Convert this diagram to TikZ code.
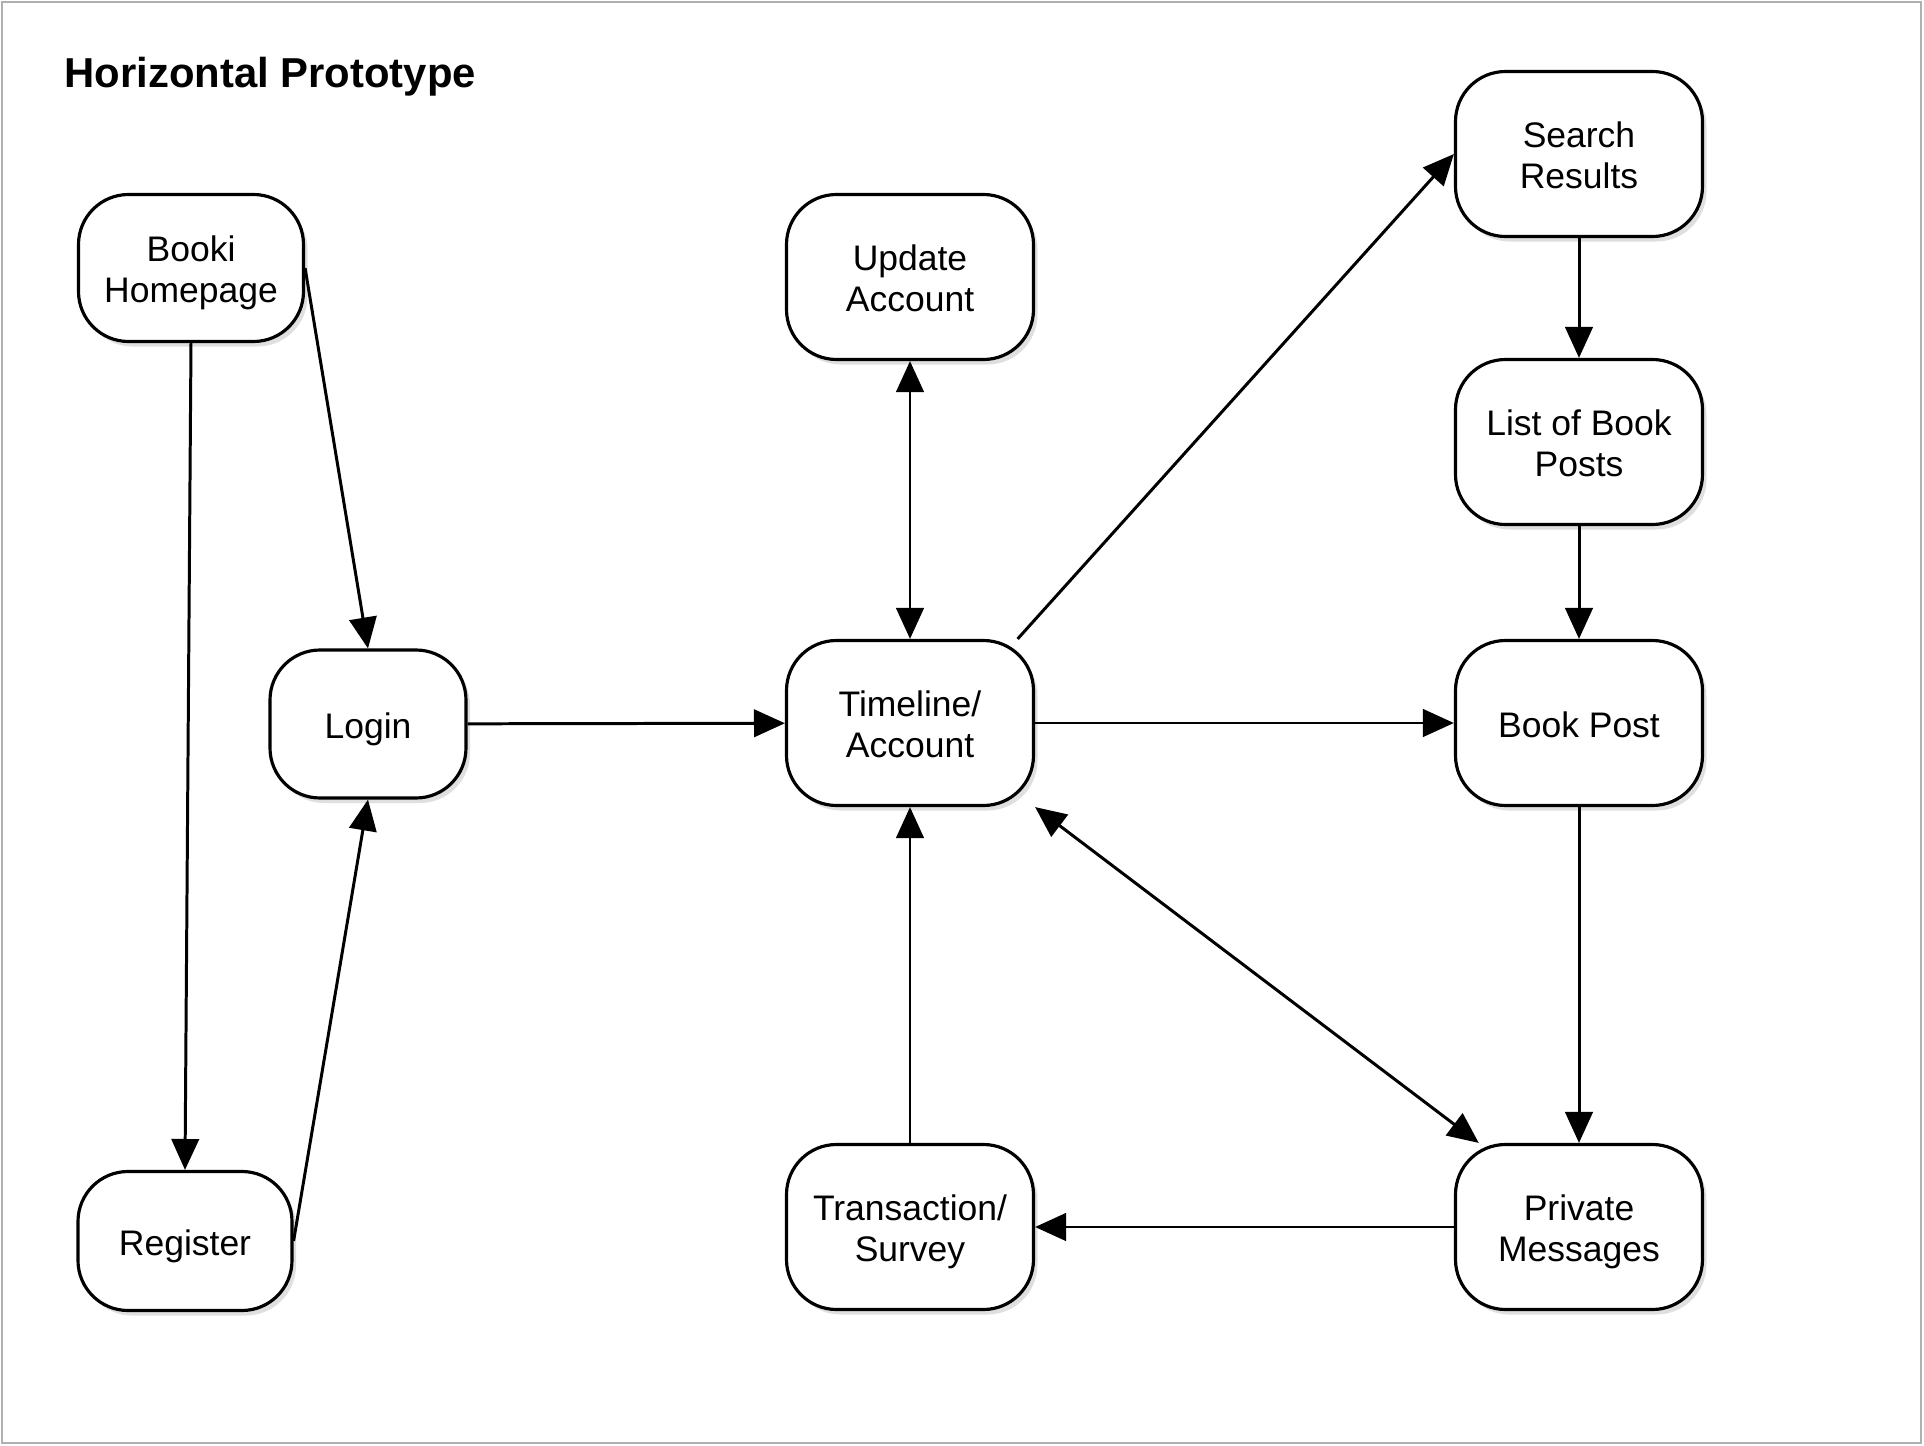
\documentclass[tikz,border=0pt]{standalone}
\usepackage{fontspec}
\setmainfont{Liberation Sans}
\usepackage{xcolor}
\usetikzlibrary{arrows.meta,shadows}
\definecolor{cFrame}{HTML}{B0B0B0}
\definecolor{cEdge}{HTML}{000000}
\tikzset{
  >={Triangle[length=8.8pt, width=7.8pt]},
  scr/.style={draw=black, fill=white, rounded corners=0.5cm, line width=0.9pt,
              font=\fontsize{10.1}{11.9}\selectfont, align=center, inner sep=0pt,
              minimum width=2.47cm, minimum height=1.65cm,
              execute at begin node={\rule[-3pt]{0pt}{#1}},
              drop shadow={shadow xshift=0.04cm, shadow yshift=-0.05cm, opacity=0.25}},
  scr/.default=14pt,
  scrtwo/.style={scr=25.9pt},
  flow/.style={->, line width=0.85pt, cEdge},
  bflow/.style={<->, line width=0.85pt, cEdge},
}

\begin{document}
\begin{tikzpicture}[
   ttl/.style={font=\fontsize{11.9}{14}\selectfont\bfseries, anchor=base west, inner sep=0pt}]
  \useasboundingbox (0,0) rectangle (19.24,-14.46);
  \draw[cFrame, line width=0.8pt] (0.02,-0.02) rectangle (19.21,-14.43);
  \node[ttl] (title) at (0.64,-0.87) {Horizontal Prototype};

  \node[scrtwo, minimum width=2.25cm, minimum height=1.47cm] (home) at (1.91,-2.68) {Booki\\Homepage};
  \node[scr, minimum width=1.96cm, minimum height=1.48cm] (login) at (3.68,-7.24) {Login};
  \node[scr, minimum width=2.14cm, minimum height=1.39cm] (reg) at (1.85,-12.41) {Register};
  \node[scrtwo] (upd)  at (9.10,-2.77)  {Update\\Account};
  \node[scrtwo] (tl)   at (9.10,-7.23)  {Timeline/\\Account};
  \node[scrtwo] (tr)   at (9.10,-12.27) {Transaction/\\Survey};
  \node[scrtwo] (sr)   at (15.79,-1.54) {Search\\Results};
  \node[scrtwo] (list) at (15.79,-4.42) {List of Book\\Posts};
  \node[scr] (bp)   at (15.79,-7.23) {Book Post};
  \node[scrtwo] (pm)   at (15.79,-12.27) {Private\\Messages};

  \draw[flow] (home.south) -- (reg.north);
  \draw[flow] (home.east) -- (login.north);
  \draw[flow] (reg.east) -- (login.south);
  \draw[flow] (login) -- (tl);
  \draw[bflow] (upd) -- (tl);
  \draw[flow] (tl.38) -- (sr.west);
  \draw[flow] (sr) -- (list);
  \draw[flow] (list) -- (bp);
  \draw[flow] (tl) -- (bp);
  \draw[flow] (bp) -- (pm);
  \draw[bflow] (tl.south east) -- (pm.140);
  \draw[flow] (pm) -- (tr);
  \draw[flow] (tr) -- (tl);
\end{tikzpicture}
\end{document}
